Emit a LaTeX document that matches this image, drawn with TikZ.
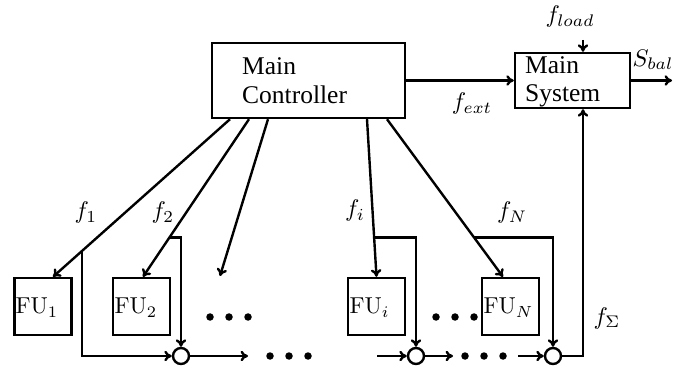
\documentclass[tikz,border=0pt]{standalone}
\usepackage[no-math]{fontspec}
\usepackage{graphicx}
\setmainfont{Liberation Serif}
\usetikzlibrary{calc,arrows.meta}

% math labels: 10pt Computer Modern, enlarged
\newcommand{\biglbl}[2]{\scalebox{#1}{\fontsize{10}{12}\selectfont$#2$}}

\begin{document}
\begin{tikzpicture}[x=1pt,y=-1pt,
  wire/.style={line width=2.4pt},
  arr/.style={wire,-{To[length=7.5pt,width=10.5pt]}},
  block/.style={draw,line width=2.4pt,inner sep=0pt},
  fubox/.style={block,minimum width=57pt,minimum height=57pt},
  fulabel/.style={anchor=base west,inner sep=0pt},
  sumnode/.style={draw,circle,line width=2.4pt,minimum size=16pt,inner sep=0pt},
  bigdot/.style={circle,fill,inner sep=0pt,minimum size=7.5pt},
  blocktext/.style={anchor=west,inner sep=0pt,align=left,font=\fontsize{25.5}{28.5}\selectfont},
  sig/.style={inner sep=0pt}]
\useasboundingbox (0,0) rectangle (696,371);

% main blocks
\node[block,minimum width=193pt,minimum height=75pt] (ctrl) at (308.5,80.5) {};
\node[blocktext] (ctrltxt) at (242,80.5) {Main\\Controller};
\node[block,minimum width=115pt,minimum height=55pt] (sys) at (572.5,80.5) {};
\node[blocktext] (systxt) at (525,82) {Main\\System};

% functional units
\node[fubox] (fu1) at (43,306.5) {};
\node[fubox] (fu2) at (141.5,306.5) {};
\node[fubox] (fui) at (376.5,306.5) {};
\node[fubox] (fuN) at (510.5,306.5) {};
\node[fulabel] (fu1txt) at (15.5,314) {\biglbl{2.3}{\mathrm{FU}_1}};
\node[fulabel] (fu2txt) at (114.5,314) {\biglbl{2.3}{\mathrm{FU}_2}};
\node[fulabel] (fuitxt) at (349.5,314) {\biglbl{2.3}{\mathrm{FU}_i}};
\node[fulabel] (fuNtxt) at (483.5,314) {\biglbl{2.3}{\mathrm{FU}_N}};

% summing junctions
\node[sumnode] (c1) at (181,356) {};
\node[sumnode] (ci) at (416,356) {};
\node[sumnode] (cN) at (553,356) {};

% ellipses
\foreach \x [count=\k] in {210,229,248} \node[bigdot] (ua\k) at (\x,317) {};
\foreach \x [count=\k] in {436,455,474} \node[bigdot] (ub\k) at (\x,317) {};
\foreach \x [count=\k] in {270,289,308} \node[bigdot] (la\k) at (\x,356) {};
\foreach \x [count=\k] in {465,484,503} \node[bigdot] (lb\k) at (\x,356) {};

% free ends
\coordinate (open) at (220,276);
\coordinate (e1) at (248,356);
\coordinate (e2) at (377,356);
\coordinate (e3) at (453,356);
\coordinate (e4) at (518,356);
\coordinate (loadsrc) at (583,40);
\coordinate (balout) at (672,80.5);

% controller outputs
\coordinate (s1) at ($(ctrl.south)+(-78.5,0)$);
\coordinate (s2) at ($(ctrl.south)+(-59.5,0)$);
\coordinate (s3) at ($(ctrl.south)+(-40.5,0)$);
\coordinate (si) at ($(ctrl.south)+(58.5,0)$);
\coordinate (sN) at ($(ctrl.south)+(78.5,0)$);
\coordinate (t1) at ([xshift=10pt]fu1.north);
\coordinate (t2) at ([xshift=1.5pt]fu2.north);
\coordinate (ti) at (fui.north);
\coordinate (tN) at ([xshift=-7.5pt]fuN.north);

\draw[arr] (s1) -- coordinate[pos=0.836] (b1) (t1);
\draw[arr] (s2) -- coordinate[pos=0.75] (b2) (t2);
\draw[arr] (s3) -- (open);
\draw[arr] (si) -- coordinate[pos=0.75] (bi) (ti);
\draw[arr] (sN) -- coordinate[pos=0.75] (bN) (tN);

% taps into the summing chain
\draw[arr] (b1) |- (c1.west);
\draw[arr] (b2) -| (c1.north);
\draw[arr] (bi) -| (ci.north);
\draw[arr] (bN) -| (cN.north);

% summing chain
\draw[arr] (c1.east) -- (e1);
\draw[arr] (e2) -- (ci.west);
\draw[arr] (ci.east) -- (e3);
\draw[arr] (e4) -- (cN.west);
\draw[arr] (cN.east) -| ([xshift=10.5pt]sys.south);

% main system signals
\draw[arr] (ctrl.east) -- (sys.west);
\draw[arr] (loadsrc) -- ([xshift=10.5pt]sys.north);
\draw[arr] (sys.east) -- (balout);

% signal labels
\node[sig] (lf1) at (86,213) {\biglbl{2.4}{f_1}};
\node[sig] (lf2) at (163,213) {\biglbl{2.4}{f_2}};
\node[sig] (lfi) at (355,211) {\biglbl{2.4}{f_i}};
\node[sig] (lfN) at (512,213) {\biglbl{2.4}{f_N}};
\node[sig] (lext) at (472,104) {\biglbl{2.4}{f_{ext}}};
\node[sig] (lload) at (570,17) {\biglbl{2.4}{f_{load}}};
\node[sig] (lbal) at (653,60) {\biglbl{2.4}{S_{bal}}};
\node[sig] (lsum) at (607,318) {\biglbl{2.4}{f_\Sigma}};
\end{tikzpicture}
\end{document}
